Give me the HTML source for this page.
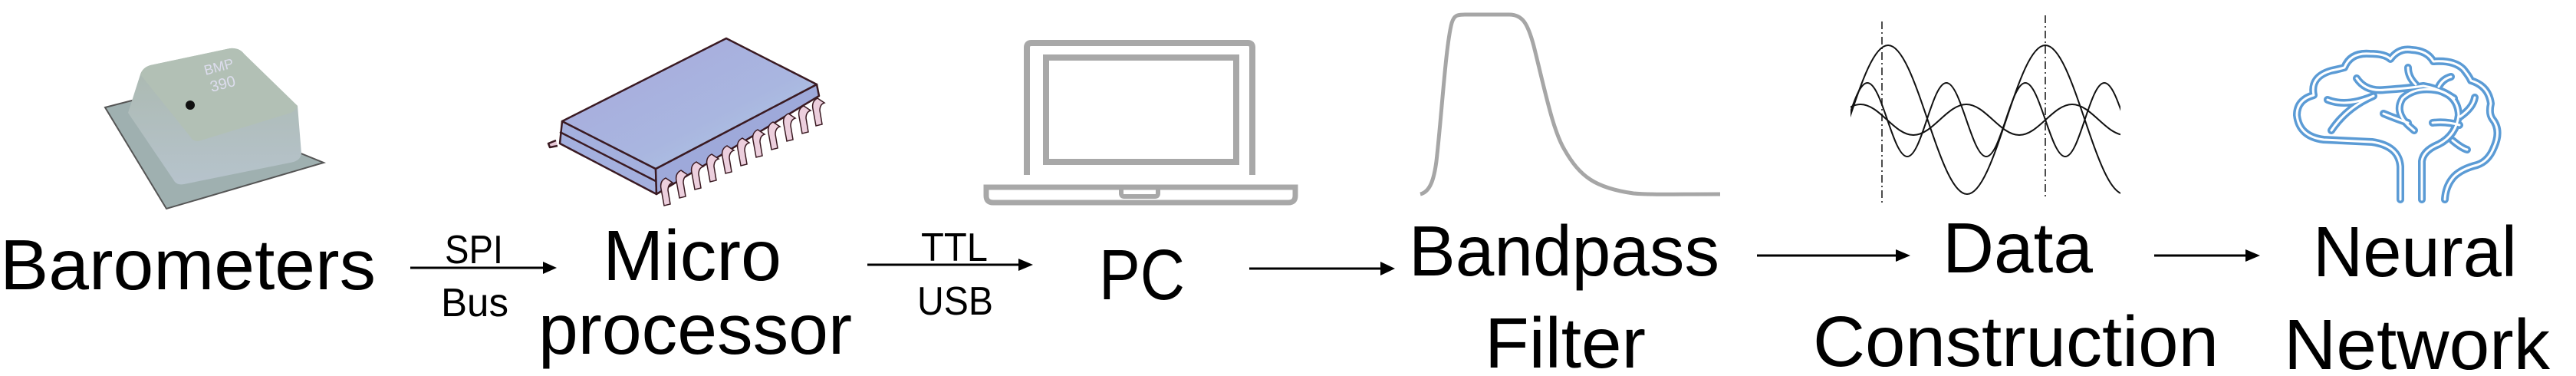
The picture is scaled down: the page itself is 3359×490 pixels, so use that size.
<!DOCTYPE html>
<html><head><meta charset="utf-8"><style>html,body{margin:0;padding:0;background:#fff}svg{display:block}</style></head>
<body>
<svg width="3359" height="490" viewBox="0 0 3359 490" xmlns="http://www.w3.org/2000/svg">
<defs>
<linearGradient id="chip" x1="0" y1="0" x2="1" y2="1"><stop offset="0" stop-color="#a7a8dc"/><stop offset="0.6" stop-color="#a9b6e0"/><stop offset="1" stop-color="#b4d0e6"/></linearGradient>
<linearGradient id="baro" x1="0" y1="0" x2="0" y2="1"><stop offset="0" stop-color="#aab8ad"/><stop offset="1" stop-color="#b6c3cc"/></linearGradient>
<clipPath id="wc"><rect x="2413" y="40" width="352" height="230"/></clipPath>
</defs>
<g font-family="Liberation Sans, sans-serif" fill="#000">
<text x="0" y="377" font-size="93" textLength="490" lengthAdjust="spacingAndGlyphs">Barometers</text>
<text x="786" y="365" font-size="93" textLength="233" lengthAdjust="spacingAndGlyphs">Micro</text>
<text x="702" y="461" font-size="93" textLength="409" lengthAdjust="spacingAndGlyphs">processor</text>
<text x="580" y="343" font-size="52" textLength="76" lengthAdjust="spacingAndGlyphs">SPI</text>
<text x="575" y="412" font-size="52" textLength="88" lengthAdjust="spacingAndGlyphs">Bus</text>
<text x="1201" y="340" font-size="52" textLength="87" lengthAdjust="spacingAndGlyphs">TTL</text>
<text x="1196" y="410" font-size="52" textLength="99" lengthAdjust="spacingAndGlyphs">USB</text>
<text x="1433" y="390" font-size="93" textLength="112" lengthAdjust="spacingAndGlyphs">PC</text>
<text x="1837" y="359" font-size="93" textLength="405" lengthAdjust="spacingAndGlyphs">Bandpass</text>
<text x="1936" y="479" font-size="93" textLength="210" lengthAdjust="spacingAndGlyphs">Filter</text>
<text x="2533" y="355" font-size="93" textLength="196" lengthAdjust="spacingAndGlyphs">Data</text>
<text x="2364" y="477" font-size="93" textLength="529" lengthAdjust="spacingAndGlyphs">Construction</text>
<text x="3016" y="360" font-size="93" textLength="266" lengthAdjust="spacingAndGlyphs">Neural</text>
<text x="2978" y="481" font-size="93" textLength="347" lengthAdjust="spacingAndGlyphs">Network</text>
</g>
<!-- arrows -->
<g stroke="#000" stroke-width="3">
<line x1="535" y1="349" x2="710" y2="349"/>
<line x1="1131" y1="345" x2="1330" y2="345"/>
<line x1="1629" y1="350" x2="1802" y2="350"/>
<line x1="2291" y1="333" x2="2474" y2="333"/>
<line x1="2809" y1="333" x2="2930" y2="333"/>
</g>
<g fill="#000">
<polygon points="708,341 726,349 708,357"/>
<polygon points="1328,337 1347,345 1328,353"/>
<polygon points="1800,341 1819,350 1800,359"/>
<polygon points="2472,325 2491,333 2472,341"/>
<polygon points="2928,325 2947,333 2928,341"/>
</g>
<!-- barometer -->
<polygon points="137,140 203,123 422,212 217,272" fill="#9fb0b0" stroke="#555" stroke-width="2"/>
<path d="M167,147 L183,97 Q186,88 196,85 L300,63 Q312,62 318,70 L388,138 L393,200 Q392,208 383,211 L240,240 Q230,242 226,234 Z" fill="url(#baro)"/>
<path d="M183,97 Q186,88 196,85 L300,63 Q312,62 318,70 L388,138 Q385,146 376,148 L262,183 Q252,186 248,178 Z" fill="#b2c0b5"/>
<circle cx="248" cy="137" r="6" fill="#111"/>
<text x="268" y="98" font-family="Liberation Sans, sans-serif" font-size="18" fill="#dde" transform="rotate(-15 268 98)">BMP</text>
<text x="276" y="120" font-family="Liberation Sans, sans-serif" font-size="20" fill="#dde" transform="rotate(-15 276 120)">390</text>
<!-- microchip -->
<g stroke="#3a1a22" stroke-width="2.5" stroke-linejoin="round">
<polygon points="733,158 855,220 856,253 730,187" fill="#a4b0de"/>
<polygon points="855,220 1065,110 1068,125 856,253" fill="#9ea9da"/>
<polygon points="947,50 1065,110 855,220 733,158" fill="url(#chip)"/>
<line x1="730" y1="172" x2="855" y2="236"/>
<path d="M725,183 l-10,4 l2,5 l10,-2" fill="#e7c9d8"/>
</g>
<g stroke="#3a1a22" stroke-width="1.5" fill="#eccfdd">
<path d="M868,232 q-8,4 -6,14 l4,22 l8,-2 l-3,-18 q0,-8 6,-10 Z"/>
<path d="M888,222 q-8,4 -6,14 l4,22 l8,-2 l-3,-18 q0,-8 6,-10 Z"/>
<path d="M908,211 q-8,4 -6,14 l4,22 l8,-2 l-3,-18 q0,-8 6,-10 Z"/>
<path d="M928,201 q-8,4 -6,14 l4,22 l8,-2 l-3,-18 q0,-8 6,-10 Z"/>
<path d="M948,190 q-8,4 -6,14 l4,22 l8,-2 l-3,-18 q0,-8 6,-10 Z"/>
<path d="M968,180 q-8,4 -6,14 l4,22 l8,-2 l-3,-18 q0,-8 6,-10 Z"/>
<path d="M988,169 q-8,4 -6,14 l4,22 l8,-2 l-3,-18 q0,-8 6,-10 Z"/>
<path d="M1008,159 q-8,4 -6,14 l4,22 l8,-2 l-3,-18 q0,-8 6,-10 Z"/>
<path d="M1028,148 q-8,4 -6,14 l4,22 l8,-2 l-3,-18 q0,-8 6,-10 Z"/>
<path d="M1048,138 q-8,4 -6,14 l4,22 l8,-2 l-3,-18 q0,-8 6,-10 Z"/>
<path d="M1066,128 q-8,4 -6,14 l4,22 l8,-2 l-3,-18 q0,-8 6,-10 Z"/>
</g>
<!-- laptop -->
<g fill="none" stroke="#a8a8a8">
<path d="M1339,228 V62 Q1339,56 1345,56 H1627 Q1633,56 1633,62 V228" stroke-width="8"/>
<rect x="1364" y="75" width="248" height="136" stroke-width="8"/>
<path d="M1286,244 H1689 V255 Q1689,264 1680,264 H1295 Q1286,264 1286,255 Z" stroke-width="7"/>
<path d="M1462,244 v8 q0,4 4,4 h40 q4,0 4,-4 v-8" stroke-width="6"/>
</g>
<!-- bandpass -->
<path d="M1852,253 C1865,250 1870,233 1873,210 C1880,150 1885,60 1893,30 C1896,20 1900,19 1910,19 L1968,19 C1985,19 1992,30 2000,60 C2015,120 2025,170 2040,195 C2060,230 2080,245 2130,252 C2150,254 2180,253 2243,253" fill="none" stroke="#a6a6a6" stroke-width="5"/>
<!-- waves -->
<g fill="none" stroke="#111" stroke-width="2" clip-path="url(#wc)">
<path d="M2360,253 C2397,253 2425,59 2462,59 C2499,59 2528,253 2565,253 C2602,253 2630,59 2667,59 C2704,59 2733,253 2770,253"/>
<path d="M2384,204 C2403,204 2416,108 2435,108 C2454,108 2468,204 2487,204 C2506,204 2519,108 2538,108 C2557,108 2571,204 2590,204 C2609,204 2622,108 2641,108 C2660,108 2674,204 2693,204 C2712,204 2725,108 2744,108 C2763,108 2777,204 2796,204"/>
<path d="M2357,176 C2382,176 2401,136 2426,136 C2451,136 2470,176 2495,176 C2520,176 2539,136 2564,136 C2589,136 2608,176 2633,176 C2658,176 2677,136 2702,136 C2727,136 2746,176 2771,176"/>
</g>
<g stroke="#111" stroke-width="1.5" stroke-dasharray="10,4,2,4">
<line x1="2454" y1="28" x2="2454" y2="265"/>
<line x1="2667" y1="20" x2="2667" y2="258"/>
</g>
<!-- brain -->
<g fill="none" stroke-linecap="round" stroke-linejoin="round">
<g stroke="#5b9bd5" stroke-width="10">
<path id="b1" d="M3130,260 V217 Q3128,190 3093,185 L3030,182 Q2998,178 2995,150 Q2995,130 3017,124 Q3012,100 3040,92 Q3050,90 3057,88 Q3065,68 3090,70 Q3110,70 3117,77 Q3128,62 3145,65 Q3165,66 3173,80 Q3200,78 3212,90 Q3220,100 3222,105 Q3245,112 3248,135 Q3245,148 3250,155 Q3262,170 3252,192 Q3245,210 3230,215 Q3210,220 3200,230 Q3189,242 3188,260"/>
<path d="M3158,260 V210 Q3160,196 3180,188 Q3203,176 3206,150 Q3205,125 3180,118 Q3150,112 3133,128 Q3122,145 3140,163 L3148,170"/>
<path d="M3073,102 Q3085,120 3110,117 Q3140,115 3160,112 Q3180,115 3200,128"/>
<path d="M3140,88 Q3140,100 3150,110"/>
<path d="M3180,113 Q3185,103 3196,100"/>
<path d="M3035,130 Q3060,140 3095,125 Q3060,140 3040,170"/>
<path d="M3108,148 Q3125,155 3140,160"/>
<path d="M3172,160 Q3190,158 3207,163"/>
<path d="M3208,152 Q3225,140 3227,127"/>
<path d="M3198,183 Q3210,193 3217,195"/>
</g>
<g stroke="#fff" stroke-width="3">
<use href="#b1"/>
<path d="M3158,260 V210 Q3160,196 3180,188 Q3203,176 3206,150 Q3205,125 3180,118 Q3150,112 3133,128 Q3122,145 3140,163 L3148,170"/>
<path d="M3073,102 Q3085,120 3110,117 Q3140,115 3160,112 Q3180,115 3200,128"/>
<path d="M3140,88 Q3140,100 3150,110"/>
<path d="M3180,113 Q3185,103 3196,100"/>
<path d="M3035,130 Q3060,140 3095,125 Q3060,140 3040,170"/>
<path d="M3108,148 Q3125,155 3140,160"/>
<path d="M3172,160 Q3190,158 3207,163"/>
<path d="M3208,152 Q3225,140 3227,127"/>
<path d="M3198,183 Q3210,193 3217,195"/>
</g>
</g>
</svg>
</body></html>
